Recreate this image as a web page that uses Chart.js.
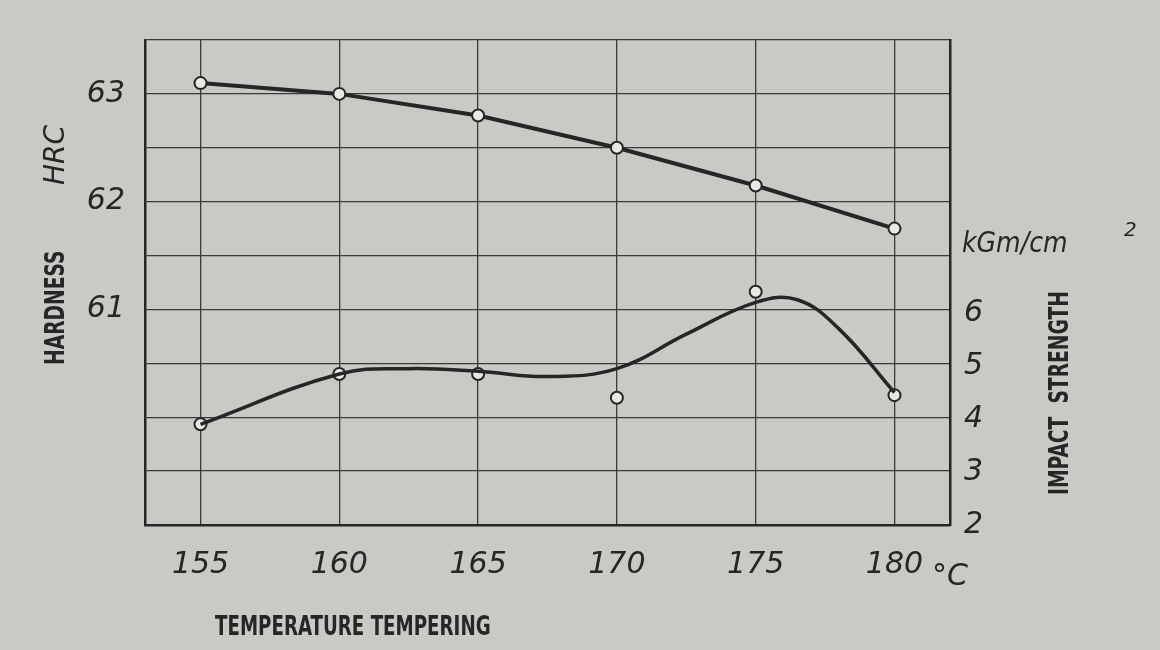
<!DOCTYPE html>
<html><head><meta charset="utf-8">
<script src="https://cdn.jsdelivr.net/npm/chart.js@4/dist/chart.umd.min.js"></script>
<style>html,body{margin:0;background:#c9c9c5}#w{width:1160px;height:650px}</style>
</head><body><div id="w"><canvas id="c"></canvas></div>
<script>
const temps=[155,160,165,170,175,180];
const hardness=[63.1,63.0,62.8,62.5,62.15,61.75];
const impactPts=[3.9,4.85,4.85,4.4,6.4,4.45];
const impactCurveX=[155,160,162.5,165,167.5,170,172.5,175,176.5,178,180];
const impactCurveY=[3.9,4.85,4.95,4.9,4.8,4.95,5.6,6.2,6.25,5.7,4.5];
const xTicks=[155,160,165,170,175,180];
const leftTicks=[61,62,63];
const rightTicks=[2,3,4,5,6];
const ink='#262626';
const tickFont={family:'DejaVu Sans',size:30,style:'italic',weight:'200'};
const bold='bold 26px "DejaVu Sans Condensed","DejaVu Sans",sans-serif';
function narrow(g,txt,x,y,sx){g.save();g.translate(x,y);g.scale(sx,1);g.fillText(txt,0,0);g.restore();}
const labels={id:'labels',afterDraw(c){const g=c.ctx;g.save();g.fillStyle=ink;
g.font=bold;g.textAlign='left';g.textBaseline='alphabetic';
narrow(g,'TEMPERATURE TEMPERING',215,635,0.78);
g.save();g.translate(64,365);g.rotate(-Math.PI/2);narrow(g,'HARDNESS',0,0,0.8);g.restore();
g.save();g.translate(64,185);g.rotate(-Math.PI/2);g.font='italic 200 28px "DejaVu Sans"';g.fillText('HRC',0,0);g.restore();
g.save();g.translate(1068,495);g.rotate(-Math.PI/2);narrow(g,'IMPACT  STRENGTH',0,0,0.8);g.restore();
g.font='italic 200 28px "DejaVu Sans"';narrow(g,'kGm/cm',962,252,0.9);g.font='italic 200 20px "DejaVu Sans"';g.fillText('2',1124,236);
g.font='italic 200 30px "DejaVu Sans"';g.fillText('°C',932,585);
g.restore();}};
new Chart(document.getElementById('c'),{type:'scatter',
data:{datasets:[
{data:temps.map((t,i)=>({x:t,y:hardness[i]})),yAxisID:'y',showLine:true,borderColor:ink,borderWidth:4,pointRadius:6,pointBackgroundColor:'#e8e8e4',pointBorderColor:ink,pointBorderWidth:2},
{data:impactCurveX.map((t,i)=>({x:t,y:impactCurveY[i]})),yAxisID:'y2',showLine:true,tension:0.4,borderColor:ink,borderWidth:3.5,pointRadius:0},
{data:temps.map((t,i)=>({x:t,y:impactPts[i]})),yAxisID:'y2',showLine:false,pointRadius:6,pointBackgroundColor:'#e8e8e4',pointBorderColor:ink,pointBorderWidth:2}
]},
options:{responsive:true,maintainAspectRatio:false,animation:false,layout:{padding:{top:40}},
plugins:{legend:{display:false},tooltip:{enabled:false}},
scales:{
x:{type:'linear',min:153,max:182,afterFit(s){s.height=125},afterBuildTicks(s){s.ticks=xTicks.map(v=>({value:v}))},
 ticks:{color:ink,font:tickFont,padding:22},grid:{color:'#3a3a3a',lineWidth:1.3,drawTicks:false},border:{color:ink,width:2.5}},
y:{position:'left',min:59,max:63.5,afterFit(s){s.width=145},ticks:{stepSize:0.5,color:ink,font:tickFont,padding:20,callback:v=>leftTicks.includes(v)?v:''},
 grid:{color:'#3a3a3a',lineWidth:1.3,drawTicks:false},border:{color:ink,width:2.5}},
y2:{position:'right',min:2,max:11.15,afterFit(s){s.width=210},afterBuildTicks(s){s.ticks=rightTicks.map(v=>({value:v}))},
 ticks:{color:ink,font:tickFont,padding:14},grid:{display:false,drawTicks:false},border:{color:ink,width:2.5}}
}},plugins:[labels]});
</script></body></html>
